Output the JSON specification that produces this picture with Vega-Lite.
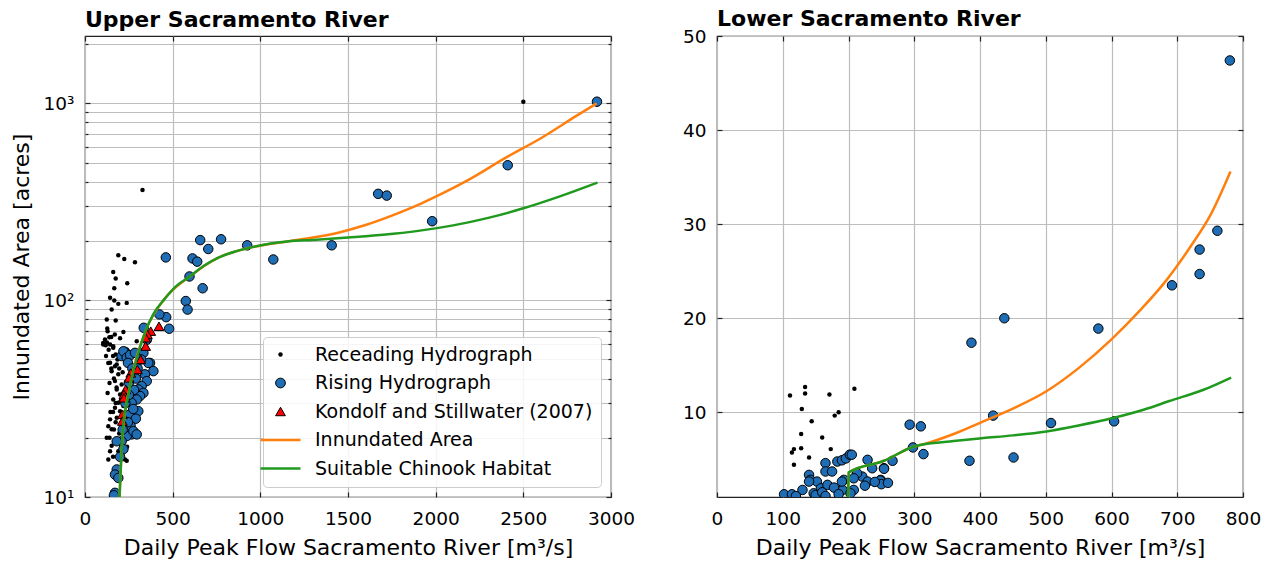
{
  "$schema": "https://vega.github.io/schema/vega-lite/v6.json",
  "padding": {"left": 9, "top": 7, "right": 3, "bottom": 5},
  "spacing": 45,
  "datasets": {
    "upper": [
      {"flow":104,"area":59.6,"series":"Receading Hydrograph"},{"flow":143,"area":59.6,"series":"Receading Hydrograph"},{"flow":161,"area":57.3,"series":"Receading Hydrograph"},{"flow":133,"area":48,"series":"Receading Hydrograph"},{"flow":181,"area":47.2,"series":"Receading Hydrograph"},{"flow":152,"area":43.6,"series":"Receading Hydrograph"},{"flow":190,"area":42,"series":"Receading Hydrograph"},{"flow":171,"area":38.8,"series":"Receading Hydrograph"},{"flow":209,"area":37.3,"series":"Receading Hydrograph"},{"flow":181,"area":35.2,"series":"Receading Hydrograph"},{"flow":129,"area":33.8,"series":"Receading Hydrograph"},{"flow":200,"area":33.2,"series":"Receading Hydrograph"},{"flow":161,"area":31.3,"series":"Receading Hydrograph"},{"flow":190,"area":30.1,"series":"Receading Hydrograph"},{"flow":219,"area":29,"series":"Receading Hydrograph"},{"flow":171,"area":28.4,"series":"Receading Hydrograph"},{"flow":200,"area":27.3,"series":"Receading Hydrograph"},{"flow":143,"area":24.8,"series":"Receading Hydrograph"},{"flow":181,"area":25.3,"series":"Receading Hydrograph"},{"flow":133,"area":22.9,"series":"Receading Hydrograph"},{"flow":152,"area":22.1,"series":"Receading Hydrograph"},{"flow":124,"area":20,"series":"Receading Hydrograph"},{"flow":152,"area":18.2,"series":"Receading Hydrograph"},{"flow":190,"area":17.1,"series":"Receading Hydrograph"},{"flow":143,"area":17.1,"series":"Receading Hydrograph"},{"flow":133,"area":15.5,"series":"Receading Hydrograph"},{"flow":228,"area":15.5,"series":"Receading Hydrograph"},{"flow":200,"area":15.8,"series":"Receading Hydrograph"},{"flow":238,"area":15.3,"series":"Receading Hydrograph"},{"flow":190,"area":169,"series":"Receading Hydrograph"},{"flow":224,"area":162,"series":"Receading Hydrograph"},{"flow":285,"area":156,"series":"Receading Hydrograph"},{"flow":161,"area":139,"series":"Receading Hydrograph"},{"flow":175,"area":129,"series":"Receading Hydrograph"},{"flow":241,"area":122,"series":"Receading Hydrograph"},{"flow":167,"area":115,"series":"Receading Hydrograph"},{"flow":143,"area":103,"series":"Receading Hydrograph"},{"flow":167,"area":99.6,"series":"Receading Hydrograph"},{"flow":190,"area":95.8,"series":"Receading Hydrograph"},{"flow":238,"area":96.9,"series":"Receading Hydrograph"},{"flow":152,"area":89.7,"series":"Receading Hydrograph"},{"flow":124,"area":79.8,"series":"Receading Hydrograph"},{"flow":175,"area":78.9,"series":"Receading Hydrograph"},{"flow":127,"area":71.8,"series":"Receading Hydrograph"},{"flow":129,"area":69.6,"series":"Receading Hydrograph"},{"flow":219,"area":69,"series":"Receading Hydrograph"},{"flow":114,"area":63.1,"series":"Receading Hydrograph"},{"flow":104,"area":60.7,"series":"Receading Hydrograph"},{"flow":139,"area":64.9,"series":"Receading Hydrograph"},{"flow":161,"area":58.4,"series":"Receading Hydrograph"},{"flow":295,"area":61.9,"series":"Receading Hydrograph"},{"flow":143,"area":48.1,"series":"Receading Hydrograph"},{"flow":171,"area":46.2,"series":"Receading Hydrograph"},{"flow":328,"area":363,"series":"Receading Hydrograph"},{"flow":2500,"area":1020,"series":"Receading Hydrograph"},{"flow":118,"area":59,"series":"Receading Hydrograph"},{"flow":150,"area":65,"series":"Receading Hydrograph"},{"flow":175,"area":53,"series":"Receading Hydrograph"},{"flow":160,"area":52,"series":"Receading Hydrograph"},{"flow":185,"area":50,"series":"Receading Hydrograph"},{"flow":210,"area":55,"series":"Receading Hydrograph"},{"flow":230,"area":50,"series":"Receading Hydrograph"},{"flow":195,"area":45,"series":"Receading Hydrograph"},{"flow":215,"area":43,"series":"Receading Hydrograph"},{"flow":165,"area":40,"series":"Receading Hydrograph"},{"flow":140,"area":38,"series":"Receading Hydrograph"},{"flow":180,"area":36,"series":"Receading Hydrograph"},{"flow":205,"area":31,"series":"Receading Hydrograph"},{"flow":160,"area":27,"series":"Receading Hydrograph"},{"flow":175,"area":24,"series":"Receading Hydrograph"},{"flow":145,"area":27,"series":"Receading Hydrograph"},{"flow":165,"area":22,"series":"Receading Hydrograph"},{"flow":195,"area":21,"series":"Receading Hydrograph"},{"flow":140,"area":20,"series":"Receading Hydrograph"},{"flow":185,"area":19,"series":"Receading Hydrograph"},{"flow":160,"area":16,"series":"Receading Hydrograph"},{"flow":175,"area":30,"series":"Receading Hydrograph"},{"flow":230,"area":35,"series":"Receading Hydrograph"},{"flow":215,"area":25,"series":"Receading Hydrograph"},{"flow":230,"area":27,"series":"Receading Hydrograph"},{"flow":240,"area":18,"series":"Receading Hydrograph"},{"flow":125,"area":61,"series":"Receading Hydrograph"},{"flow":135,"area":56,"series":"Receading Hydrograph"},{"flow":170,"area":67,"series":"Receading Hydrograph"},{"flow":200,"area":64,"series":"Receading Hydrograph"},{"flow":240,"area":56,"series":"Receading Hydrograph"},{"flow":150,"area":45,"series":"Receading Hydrograph"},{"flow":120,"area":52,"series":"Receading Hydrograph"},
      {"flow":2920,"area":1020,"series":"Rising Hydrograph"},{"flow":2411,"area":485,"series":"Rising Hydrograph"},{"flow":1672,"area":347,"series":"Rising Hydrograph"},{"flow":1721,"area":340,"series":"Rising Hydrograph"},{"flow":1980,"area":252,"series":"Rising Hydrograph"},{"flow":1407,"area":190,"series":"Rising Hydrograph"},{"flow":1074,"area":161,"series":"Rising Hydrograph"},{"flow":925,"area":190,"series":"Rising Hydrograph"},{"flow":776,"area":204,"series":"Rising Hydrograph"},{"flow":657,"area":202,"series":"Rising Hydrograph"},{"flow":703,"area":182,"series":"Rising Hydrograph"},{"flow":613,"area":163,"series":"Rising Hydrograph"},{"flow":640,"area":157,"series":"Rising Hydrograph"},{"flow":461,"area":165,"series":"Rising Hydrograph"},{"flow":596,"area":132,"series":"Rising Hydrograph"},{"flow":671,"area":115,"series":"Rising Hydrograph"},{"flow":575,"area":99,"series":"Rising Hydrograph"},{"flow":585,"area":89.6,"series":"Rising Hydrograph"},{"flow":463,"area":82,"series":"Rising Hydrograph"},{"flow":480,"area":71.6,"series":"Rising Hydrograph"},{"flow":424,"area":84.7,"series":"Rising Hydrograph"},{"flow":335,"area":72.4,"series":"Rising Hydrograph"},{"flow":228,"area":54.6,"series":"Rising Hydrograph"},{"flow":209,"area":52,"series":"Rising Hydrograph"},{"flow":333,"area":54,"series":"Rising Hydrograph"},{"flow":371,"area":48,"series":"Rising Hydrograph"},{"flow":390,"area":43.6,"series":"Rising Hydrograph"},{"flow":342,"area":42,"series":"Rising Hydrograph"},{"flow":352,"area":38.8,"series":"Rising Hydrograph"},{"flow":323,"area":36.6,"series":"Rising Hydrograph"},{"flow":304,"area":35.2,"series":"Rising Hydrograph"},{"flow":333,"area":33.8,"series":"Rising Hydrograph"},{"flow":314,"area":32.6,"series":"Rising Hydrograph"},{"flow":295,"area":31.3,"series":"Rising Hydrograph"},{"flow":304,"area":27.3,"series":"Rising Hydrograph"},{"flow":266,"area":30.1,"series":"Rising Hydrograph"},{"flow":257,"area":26.3,"series":"Rising Hydrograph"},{"flow":266,"area":20.8,"series":"Rising Hydrograph"},{"flow":238,"area":20.4,"series":"Rising Hydrograph"},{"flow":209,"area":19.2,"series":"Rising Hydrograph"},{"flow":181,"area":19.2,"series":"Rising Hydrograph"},{"flow":219,"area":17.5,"series":"Rising Hydrograph"},{"flow":181,"area":13.8,"series":"Rising Hydrograph"},{"flow":171,"area":13,"series":"Rising Hydrograph"},{"flow":190,"area":12.5,"series":"Rising Hydrograph"},{"flow":171,"area":10.5,"series":"Rising Hydrograph"},{"flow":165,"area":10.2,"series":"Rising Hydrograph"},{"flow":219,"area":55,"series":"Rising Hydrograph"},{"flow":238,"area":51,"series":"Rising Hydrograph"},{"flow":257,"area":52.6,"series":"Rising Hydrograph"},{"flow":285,"area":54,"series":"Rising Hydrograph"},{"flow":361,"area":48,"series":"Rising Hydrograph"},{"flow":353,"area":63,"series":"Rising Hydrograph"},{"flow":245,"area":48,"series":"Rising Hydrograph"},{"flow":270,"area":45,"series":"Rising Hydrograph"},{"flow":290,"area":40,"series":"Rising Hydrograph"},{"flow":280,"area":35,"series":"Rising Hydrograph"},{"flow":250,"area":33,"series":"Rising Hydrograph"},{"flow":275,"area":28,"series":"Rising Hydrograph"},{"flow":290,"area":25,"series":"Rising Hydrograph"},{"flow":260,"area":23,"series":"Rising Hydrograph"},{"flow":250,"area":38,"series":"Rising Hydrograph"},{"flow":300,"area":45,"series":"Rising Hydrograph"},{"flow":320,"area":50,"series":"Rising Hydrograph"},{"flow":230,"area":30,"series":"Rising Hydrograph"},{"flow":245,"area":24,"series":"Rising Hydrograph"},{"flow":276,"area":21.6,"series":"Rising Hydrograph"},{"flow":295,"area":20.8,"series":"Rising Hydrograph"},{"flow":215,"area":22,"series":"Rising Hydrograph"},{"flow":200,"area":16,"series":"Rising Hydrograph"},
      {"flow":422,"area":73.7,"series":"Kondolf and Stillwater (2007)"},{"flow":375,"area":69.6,"series":"Kondolf and Stillwater (2007)"},{"flow":356,"area":67,"series":"Kondolf and Stillwater (2007)"},{"flow":346,"area":64.4,"series":"Kondolf and Stillwater (2007)"},{"flow":346,"area":58.4,"series":"Kondolf and Stillwater (2007)"},{"flow":318,"area":50,"series":"Kondolf and Stillwater (2007)"},{"flow":299,"area":44.4,"series":"Kondolf and Stillwater (2007)"},{"flow":261,"area":42.7,"series":"Kondolf and Stillwater (2007)"},{"flow":251,"area":40.3,"series":"Kondolf and Stillwater (2007)"},{"flow":232,"area":35.2,"series":"Kondolf and Stillwater (2007)"},{"flow":222,"area":33.2,"series":"Kondolf and Stillwater (2007)"},{"flow":222,"area":31.9,"series":"Kondolf and Stillwater (2007)"},{"flow":213,"area":26.3,"series":"Kondolf and Stillwater (2007)"},{"flow":213,"area":24.3,"series":"Kondolf and Stillwater (2007)"}
    ],
    "upper_curves": [
      {"flow":197,"area":10,"series":"Suitable Chinook Habitat"},{"flow":205,"area":14.5,"series":"Suitable Chinook Habitat"},{"flow":213,"area":20,"series":"Suitable Chinook Habitat"},{"flow":222,"area":25,"series":"Suitable Chinook Habitat"},{"flow":238,"area":30,"series":"Suitable Chinook Habitat"},{"flow":260,"area":38,"series":"Suitable Chinook Habitat"},{"flow":285,"area":47,"series":"Suitable Chinook Habitat"},{"flow":320,"area":60,"series":"Suitable Chinook Habitat"},{"flow":346,"area":70,"series":"Suitable Chinook Habitat"},{"flow":390,"area":85,"series":"Suitable Chinook Habitat"},{"flow":452,"area":101,"series":"Suitable Chinook Habitat"},{"flow":520,"area":118,"series":"Suitable Chinook Habitat"},{"flow":593,"area":131,"series":"Suitable Chinook Habitat"},{"flow":680,"area":150,"series":"Suitable Chinook Habitat"},{"flow":764,"area":165,"series":"Suitable Chinook Habitat"},{"flow":860,"area":177,"series":"Suitable Chinook Habitat"},{"flow":954,"area":186,"series":"Suitable Chinook Habitat"},{"flow":1060,"area":194,"series":"Suitable Chinook Habitat"},{"flow":1163,"area":199.5,"series":"Suitable Chinook Habitat"},{"flow":1300,"area":202.5,"series":"Suitable Chinook Habitat"},{"flow":1500,"area":208,"series":"Suitable Chinook Habitat"},{"flow":1700,"area":215,"series":"Suitable Chinook Habitat"},{"flow":1900,"area":225,"series":"Suitable Chinook Habitat"},{"flow":2100,"area":240,"series":"Suitable Chinook Habitat"},{"flow":2300,"area":262,"series":"Suitable Chinook Habitat"},{"flow":2500,"area":293,"series":"Suitable Chinook Habitat"},{"flow":2700,"area":335,"series":"Suitable Chinook Habitat"},{"flow":2923,"area":396,"series":"Suitable Chinook Habitat"},
      {"flow":197,"area":10,"series":"Innundated Area"},{"flow":213,"area":20,"series":"Innundated Area"},{"flow":260,"area":38,"series":"Innundated Area"},{"flow":346,"area":70,"series":"Innundated Area"},{"flow":452,"area":101,"series":"Innundated Area"},{"flow":593,"area":131,"series":"Innundated Area"},{"flow":764,"area":165,"series":"Innundated Area"},{"flow":954,"area":186,"series":"Innundated Area"},{"flow":1163,"area":199.5,"series":"Innundated Area"},{"flow":1300,"area":208,"series":"Innundated Area"},{"flow":1450,"area":221,"series":"Innundated Area"},{"flow":1600,"area":241,"series":"Innundated Area"},{"flow":1750,"area":269,"series":"Innundated Area"},{"flow":1900,"area":305,"series":"Innundated Area"},{"flow":2000,"area":336,"series":"Innundated Area"},{"flow":2200,"area":415,"series":"Innundated Area"},{"flow":2400,"area":530,"series":"Innundated Area"},{"flow":2600,"area":665,"series":"Innundated Area"},{"flow":2800,"area":861,"series":"Innundated Area"},{"flow":2918,"area":1000,"series":"Innundated Area"}
    ],
    "lower": [
      {"flow":134,"area":12.7,"series":"Receading Hydrograph"},{"flow":111,"area":11.8,"series":"Receading Hydrograph"},{"flow":134,"area":12.0,"series":"Receading Hydrograph"},{"flow":171,"area":11.9,"series":"Receading Hydrograph"},{"flow":209,"area":12.5,"series":"Receading Hydrograph"},{"flow":129,"area":10.35,"series":"Receading Hydrograph"},{"flow":185,"area":10.0,"series":"Receading Hydrograph"},{"flow":179,"area":9.65,"series":"Receading Hydrograph"},{"flow":144,"area":9.04,"series":"Receading Hydrograph"},{"flow":128,"area":7.69,"series":"Receading Hydrograph"},{"flow":160,"area":7.33,"series":"Receading Hydrograph"},{"flow":117,"area":6.09,"series":"Receading Hydrograph"},{"flow":114,"area":5.73,"series":"Receading Hydrograph"},{"flow":128,"area":6.19,"series":"Receading Hydrograph"},{"flow":117,"area":4.42,"series":"Receading Hydrograph"},{"flow":140,"area":5.2,"series":"Receading Hydrograph"},{"flow":173,"area":6.09,"series":"Receading Hydrograph"},
      {"flow":102,"area":1.29,"series":"Rising Hydrograph"},{"flow":114,"area":1.29,"series":"Rising Hydrograph"},{"flow":140,"area":3.35,"series":"Rising Hydrograph"},{"flow":142,"area":2.82,"series":"Rising Hydrograph"},{"flow":130,"area":1.75,"series":"Rising Hydrograph"},{"flow":152,"area":2.64,"series":"Rising Hydrograph"},{"flow":158,"area":1.92,"series":"Rising Hydrograph"},{"flow":165,"area":4.6,"series":"Rising Hydrograph"},{"flow":165,"area":3.71,"series":"Rising Hydrograph"},{"flow":175,"area":3.71,"series":"Rising Hydrograph"},{"flow":183,"area":4.77,"series":"Rising Hydrograph"},{"flow":190,"area":4.9,"series":"Rising Hydrograph"},{"flow":196,"area":5.1,"series":"Rising Hydrograph"},{"flow":202,"area":5.5,"series":"Rising Hydrograph"},{"flow":168,"area":2.29,"series":"Rising Hydrograph"},{"flow":147,"area":1.39,"series":"Rising Hydrograph"},{"flow":191,"area":1.75,"series":"Rising Hydrograph"},{"flow":193,"area":2.82,"series":"Rising Hydrograph"},{"flow":208,"area":1.75,"series":"Rising Hydrograph"},{"flow":229,"area":4.95,"series":"Rising Hydrograph"},{"flow":236,"area":4.06,"series":"Rising Hydrograph"},{"flow":221,"area":3.17,"series":"Rising Hydrograph"},{"flow":229,"area":2.64,"series":"Rising Hydrograph"},{"flow":249,"area":2.82,"series":"Rising Hydrograph"},{"flow":254,"area":4.06,"series":"Rising Hydrograph"},{"flow":267,"area":4.85,"series":"Rising Hydrograph"},{"flow":213,"area":3.52,"series":"Rising Hydrograph"},{"flow":190,"area":2.64,"series":"Rising Hydrograph"},{"flow":203,"area":1.39,"series":"Rising Hydrograph"},{"flow":208,"area":2.99,"series":"Rising Hydrograph"},{"flow":140,"area":2.64,"series":"Rising Hydrograph"},{"flow":692,"area":23.5,"series":"Rising Hydrograph"},{"flow":580,"area":18.9,"series":"Rising Hydrograph"},{"flow":437,"area":20.0,"series":"Rising Hydrograph"},{"flow":387,"area":17.4,"series":"Rising Hydrograph"},{"flow":420,"area":9.65,"series":"Rising Hydrograph"},{"flow":508,"area":8.86,"series":"Rising Hydrograph"},{"flow":604,"area":9.04,"series":"Rising Hydrograph"},{"flow":293,"area":8.69,"series":"Rising Hydrograph"},{"flow":310,"area":8.51,"series":"Rising Hydrograph"},{"flow":298,"area":6.27,"series":"Rising Hydrograph"},{"flow":314,"area":5.56,"series":"Rising Hydrograph"},{"flow":384,"area":4.85,"series":"Rising Hydrograph"},{"flow":451,"area":5.2,"series":"Rising Hydrograph"},{"flow":254,"area":4.0,"series":"Rising Hydrograph"},{"flow":205,"area":5.49,"series":"Rising Hydrograph"},{"flow":248,"area":2.75,"series":"Rising Hydrograph"},{"flow":250,"area":2.36,"series":"Rising Hydrograph"},{"flow":761,"area":29.3,"series":"Rising Hydrograph"},{"flow":734,"area":27.3,"series":"Rising Hydrograph"},{"flow":734,"area":24.7,"series":"Rising Hydrograph"},{"flow":780,"area":47.4,"series":"Rising Hydrograph"},{"flow":150,"area":1.2,"series":"Rising Hydrograph"},{"flow":160,"area":1.5,"series":"Rising Hydrograph"},{"flow":178,"area":2.0,"series":"Rising Hydrograph"},{"flow":185,"area":1.3,"series":"Rising Hydrograph"},{"flow":225,"area":2.2,"series":"Rising Hydrograph"},{"flow":240,"area":2.6,"series":"Rising Hydrograph"},{"flow":260,"area":2.5,"series":"Rising Hydrograph"},{"flow":120,"area":1.1,"series":"Rising Hydrograph"},{"flow":165,"area":1.1,"series":"Rising Hydrograph"}
    ],
    "lower_curves": [
      {"flow":199.5,"area":1,"series":"Suitable Chinook Habitat"},{"flow":200,"area":3.6,"series":"Suitable Chinook Habitat"},{"flow":254,"area":4.85,"series":"Suitable Chinook Habitat"},{"flow":300,"area":6.37,"series":"Suitable Chinook Habitat"},{"flow":311,"area":6.55,"series":"Suitable Chinook Habitat"},{"flow":360,"area":6.95,"series":"Suitable Chinook Habitat"},{"flow":405,"area":7.26,"series":"Suitable Chinook Habitat"},{"flow":450,"area":7.55,"series":"Suitable Chinook Habitat"},{"flow":501,"area":7.97,"series":"Suitable Chinook Habitat"},{"flow":550,"area":8.6,"series":"Suitable Chinook Habitat"},{"flow":602,"area":9.39,"series":"Suitable Chinook Habitat"},{"flow":650,"area":10.3,"series":"Suitable Chinook Habitat"},{"flow":688,"area":11.2,"series":"Suitable Chinook Habitat"},{"flow":740,"area":12.4,"series":"Suitable Chinook Habitat"},{"flow":782,"area":13.7,"series":"Suitable Chinook Habitat"},
      {"flow":199.5,"area":1,"series":"Innundated Area"},{"flow":200,"area":3.6,"series":"Innundated Area"},{"flow":254,"area":4.85,"series":"Innundated Area"},{"flow":300,"area":6.37,"series":"Innundated Area"},{"flow":311,"area":6.55,"series":"Innundated Area"},{"flow":360,"area":7.7,"series":"Innundated Area"},{"flow":405,"area":9.04,"series":"Innundated Area"},{"flow":450,"area":10.4,"series":"Innundated Area"},{"flow":501,"area":12.24,"series":"Innundated Area"},{"flow":550,"area":14.7,"series":"Innundated Area"},{"flow":600,"area":17.75,"series":"Innundated Area"},{"flow":643,"area":20.8,"series":"Innundated Area"},{"flow":683,"area":24.0,"series":"Innundated Area"},{"flow":720,"area":27.6,"series":"Innundated Area"},{"flow":750,"area":30.9,"series":"Innundated Area"},{"flow":781,"area":35.6,"series":"Innundated Area"}
    ]
  },
  "hconcat": [
    {
      "width": 526,
      "height": 461,
      "title": {"text": "Upper Sacramento River"},
      "layer": [
        {
          "data": {"name": "upper"},
          "transform": [{"filter": "datum.series === 'Receading Hydrograph'"}],
          "mark": {"type": "point", "filled": true, "size": 20, "opacity": 1, "clip": true},
          "encoding": {
            "x": {"field": "flow", "type": "quantitative", "scale": {"domain": [0, 3000], "nice": false, "zero": false},
                  "axis": {"orient": "bottom", "values": [0, 500, 1000, 1500, 2000, 2500, 3000], "format": "d", "labelFlush": false, "grid": true, "tickSize": -5, "labelPadding": 17, "title": "Daily Peak Flow Sacramento River [m³/s]", "titlePadding": 10}},
            "y": {"field": "area", "type": "quantitative", "scale": {"type": "log", "domain": [10, 2200], "nice": false},
                  "axis": {"orient": "left", "values": [10, 100, 1000], "grid": true, "tickSize": -5, "labelPadding": 16, "labelOverlap": false, "labelFlush": false,
                           "labelExpr": "datum.value == 10 ? '10¹' : datum.value == 100 ? '10²' : '10³'", "title": "Innundated Area [acres]", "titlePadding": 10}},
            "color": {"field": "series", "type": "nominal",
                      "scale": {"domain": ["Receading Hydrograph", "Rising Hydrograph", "Kondolf and Stillwater (2007)", "Innundated Area", "Suitable Chinook Habitat"],
                                "range": ["black", "#1f6db5", "#ff0000", "#ff7f0e", "#1f9a1f"]},
                      "legend": {"title": null, "orient": "bottom-right", "offset": 10, "padding": 8, "fillColor": "rgba(255,255,255,0.85)", "strokeColor": "#cccccc", "cornerRadius": 4,
                                 "labelFontSize": 19, "labelColor": "black", "labelFont": "DejaVu Sans", "symbolSize": 1600, "rowPadding": 8.5, "labelOffset": 25, "labelLimit": 500,
                                 "encoding": {"symbols": {
                                   "stroke": {"value": {"expr": "datum.value === 'Innundated Area' ? '#ff7f0e' : datum.value === 'Suitable Chinook Habitat' ? '#1f9a1f' : datum.value === 'Receading Hydrograph' ? 'transparent' : 'black'"}},
                                   "strokeWidth": {"value": {"expr": "datum.value === 'Innundated Area' || datum.value === 'Suitable Chinook Habitat' ? 2.5 : 1"}},
                                   "size": {"value": {"expr": "datum.value === 'Innundated Area' || datum.value === 'Suitable Chinook Habitat' ? 1600 : datum.value === 'Receading Hydrograph' ? 20 : 95"}},
                                   "opacity": {"value": 1}
                                 }}}},
            "shape": {"field": "series", "type": "nominal",
                      "scale": {"domain": ["Receading Hydrograph", "Rising Hydrograph", "Kondolf and Stillwater (2007)", "Innundated Area", "Suitable Chinook Habitat"],
                                "range": ["circle", "circle", "triangle-up", "stroke", "stroke"]}}
          }
        },
        {
          "data": {"name": "upper"},
          "transform": [{"filter": "datum.series === 'Rising Hydrograph'"}],
          "mark": {"type": "point", "filled": true, "size": 90, "opacity": 1, "stroke": "black", "strokeWidth": 1, "clip": true},
          "encoding": {
            "x": {"field": "flow", "type": "quantitative", "axis": {"orient": "top", "values": [0, 500, 1000, 1500, 2000, 2500, 3000], "grid": false, "labels": false, "tickSize": -5, "title": null}},
            "y": {"field": "area", "type": "quantitative", "axis": {"orient": "right", "values": [10, 100, 1000], "grid": false, "labels": false, "tickSize": -5, "title": null}},
            "color": {"field": "series", "type": "nominal"},
            "shape": {"field": "series", "type": "nominal"}
          }
        },
        {
          "data": {"name": "upper"},
          "transform": [{"filter": "datum.series === 'Kondolf and Stillwater (2007)'"}],
          "mark": {"type": "point", "filled": true, "size": 95, "opacity": 1, "stroke": "black", "strokeWidth": 1, "clip": true},
          "encoding": {
            "x": {"field": "flow", "type": "quantitative", "axis": null},
            "y": {"field": "area", "type": "quantitative", "axis": {"orient": "left", "values": [20, 30, 40, 50, 60, 70, 80, 90, 200, 300, 400, 500, 600, 700, 800, 900, 2000], "grid": true, "labels": false, "tickSize": -3, "title": null}},
            "color": {"field": "series", "type": "nominal"},
            "shape": {"field": "series", "type": "nominal"}
          }
        },
        {
          "data": {"name": "upper_curves"},
          "transform": [{"filter": "datum.series === 'Innundated Area'"}],
          "mark": {"type": "line", "strokeWidth": 2.5, "color": "#ff7f0e", "interpolate": "monotone", "clip": true},
          "encoding": {
            "x": {"field": "flow", "type": "quantitative", "axis": null},
            "y": {"field": "area", "type": "quantitative", "axis": {"orient": "right", "values": [20, 30, 40, 50, 60, 70, 80, 90, 200, 300, 400, 500, 600, 700, 800, 900, 2000], "grid": false, "labels": false, "tickSize": -3, "title": null}},
            "order": {"field": "area", "type": "quantitative"}
          }
        },
        {
          "data": {"name": "upper_curves"},
          "transform": [{"filter": "datum.series === 'Suitable Chinook Habitat'"}],
          "mark": {"type": "line", "strokeWidth": 2.5, "color": "#1f9a1f", "interpolate": "monotone", "clip": true},
          "encoding": {
            "x": {"field": "flow", "type": "quantitative", "axis": null},
            "y": {"field": "area", "type": "quantitative", "axis": null},
            "order": {"field": "area", "type": "quantitative"}
          }
        }
      ],
      "resolve": {"axis": {"x": "independent", "y": "independent"}}
    },
    {
      "width": 526,
      "height": 461,
      "title": {"text": "Lower Sacramento River", "offset": -4},
      "layer": [
        {
          "data": {"name": "lower"},
          "transform": [{"filter": "datum.series === 'Receading Hydrograph'"}],
          "mark": {"type": "point", "filled": true, "size": 20, "opacity": 1, "color": "black", "clip": true},
          "encoding": {
            "x": {"field": "flow", "type": "quantitative", "scale": {"domain": [0, 800], "nice": false, "zero": false},
                  "axis": {"orient": "bottom", "values": [0, 100, 200, 300, 400, 500, 600, 700, 800], "labelFlush": false, "grid": true, "tickSize": -5, "labelPadding": 17, "title": "Daily Peak Flow Sacramento River [m³/s]", "titlePadding": 10}},
            "y": {"field": "area", "type": "quantitative", "scale": {"domain": [1, 50], "nice": false, "zero": false},
                  "axis": {"orient": "left", "values": [10, 20, 30, 40, 50], "labelFlush": false, "grid": true, "tickSize": -5, "labelPadding": 16, "title": null}}
          }
        },
        {
          "data": {"name": "lower"},
          "transform": [{"filter": "datum.series === 'Rising Hydrograph'"}],
          "mark": {"type": "point", "filled": true, "size": 90, "opacity": 1, "color": "#1f6db5", "stroke": "black", "strokeWidth": 1, "clip": true},
          "encoding": {
            "x": {"field": "flow", "type": "quantitative", "axis": {"orient": "top", "values": [0, 100, 200, 300, 400, 500, 600, 700, 800], "grid": false, "labels": false, "tickSize": -5, "title": null}},
            "y": {"field": "area", "type": "quantitative", "axis": {"orient": "right", "values": [10, 20, 30, 40, 50], "grid": false, "labels": false, "tickSize": -5, "title": null}}
          }
        },
        {
          "data": {"name": "lower_curves"},
          "transform": [{"filter": "datum.series === 'Innundated Area'"}],
          "mark": {"type": "line", "strokeWidth": 2.5, "color": "#ff7f0e", "interpolate": "monotone", "clip": true},
          "encoding": {
            "x": {"field": "flow", "type": "quantitative", "axis": null},
            "y": {"field": "area", "type": "quantitative", "axis": null},
            "order": {"field": "area", "type": "quantitative"}
          }
        },
        {
          "data": {"name": "lower_curves"},
          "transform": [{"filter": "datum.series === 'Suitable Chinook Habitat'"}],
          "mark": {"type": "line", "strokeWidth": 2.5, "color": "#1f9a1f", "interpolate": "monotone", "clip": true},
          "encoding": {
            "x": {"field": "flow", "type": "quantitative", "axis": null},
            "y": {"field": "area", "type": "quantitative", "axis": null},
            "order": {"field": "area", "type": "quantitative"}
          }
        }
      ],
      "resolve": {"axis": {"x": "independent", "y": "independent"}}
    }
  ],
  "resolve": {"scale": {"color": "independent", "shape": "independent"}, "legend": {"color": "independent", "shape": "independent"}},
  "config": {
    "font": "DejaVu Sans",
    "background": "white",
    "view": {"stroke": "#222222", "strokeWidth": 1.2},
    "axis": {"domain": false, "gridColor": "#bdbdbd", "gridWidth": 1.2, "tickColor": "#222222", "tickWidth": 1.2,
             "labelFont": "DejaVu Sans", "labelFontSize": 18.5, "labelColor": "black", "titleFont": "DejaVu Sans", "titleFontSize": 22, "titleColor": "black", "titleFontWeight": "normal"},
    "title": {"font": "DejaVu Sans", "fontSize": 22, "fontWeight": "bold", "anchor": "start", "frame": "group", "color": "black", "offset": 3}
  }
}
